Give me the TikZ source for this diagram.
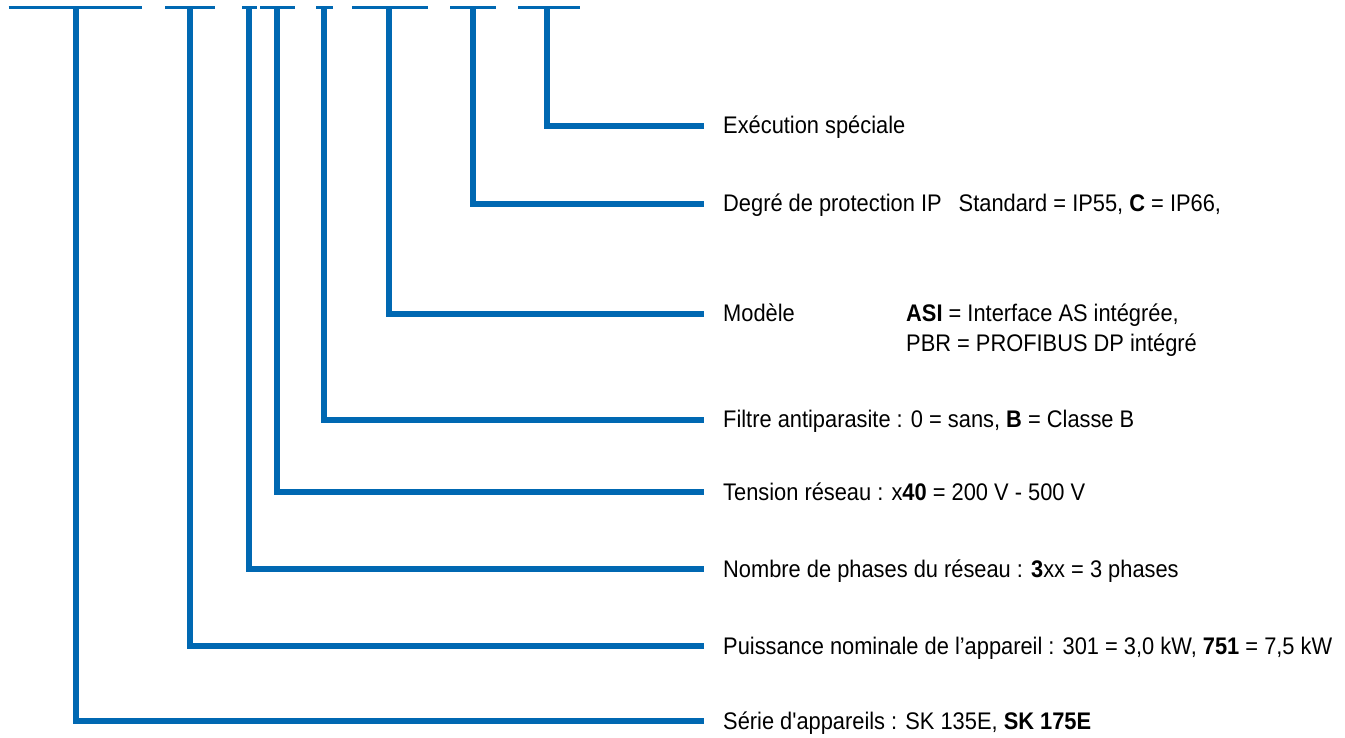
\documentclass[tikz,border=0pt]{standalone}
\usepackage{fontspec}
\setmainfont{Liberation Sans}[FakeStretch=0.91, Ligatures=TeXOff]
\definecolor{nordblue}{RGB}{0,104,178}
\begin{document}
\begin{tikzpicture}[x=1pt,y=-1pt,
  topbar/.style={draw=nordblue,line width=3pt},
  leader/.style={draw=nordblue,line width=5.5pt,line join=miter,line cap=butt},
  lbl/.style={anchor=base west,inner sep=0pt,font=\fontsize{24}{30.5}\selectfont,text=black}]
\useasboundingbox (0,0) rectangle (1345,738);
% top bars
\foreach \a/\b/\n in {8.5/142/1,165/215/2,242/257/3,260/295/4,316/333/5,352/428/6,450/496/7,518/580/8}{
  \coordinate (bl\n) at (\a,7.5);
  \coordinate (br\n) at (\b,7.5);
  \draw[topbar] (bl\n) -- (br\n);
}
% leader tops and ends
\foreach \v/\y/\n in {76/721/1,190/646/2,249/569/3,277/492/4,324/420/5,389/314/6,473/204/7,547/126/8}{
  \coordinate (t\n) at (\v,8.5);
  \coordinate (e\n) at (704,\y);
}
\foreach \n in {1,...,8}{ \draw[leader] (t\n) |- (e\n); }
% labels
\node[lbl] (l1) at (723,729) {Série d\symbol{39}appareils : SK 135E, \textbf{SK 175E}};
\node[lbl] (l2) at (723,654) {Puissance nominale de l’appareil : 301 = 3,0 kW, \textbf{751} = 7,5 kW};
\node[lbl] (l3) at (723,577) {Nombre de phases du réseau : \textbf{3}xx = 3 phases};
\node[lbl] (l4) at (723,500) {Tension réseau : x\textbf{40} = 200 V - 500 V};
\node[lbl] (l5) at (723,427.5) {Filtre antiparasite : 0 = sans, \textbf{B} = Classe B};
\node[lbl] (l6) at (723,321.5) {Modèle};
\node[lbl] (l6b) at (906,321.5) {\textbf{ASI} = Interface AS intégrée,};
\node[lbl] (l6c) at (906,352) {PBR = PROFIBUS DP intégré};
\node[lbl] (l7) at (723,212) {Degré de protection IP\hspace{11pt} Standard = IP55, \textbf{C} = IP66,};
\node[lbl] (l8) at (723,134) {Exécution spéciale};
\end{tikzpicture}
\end{document}
